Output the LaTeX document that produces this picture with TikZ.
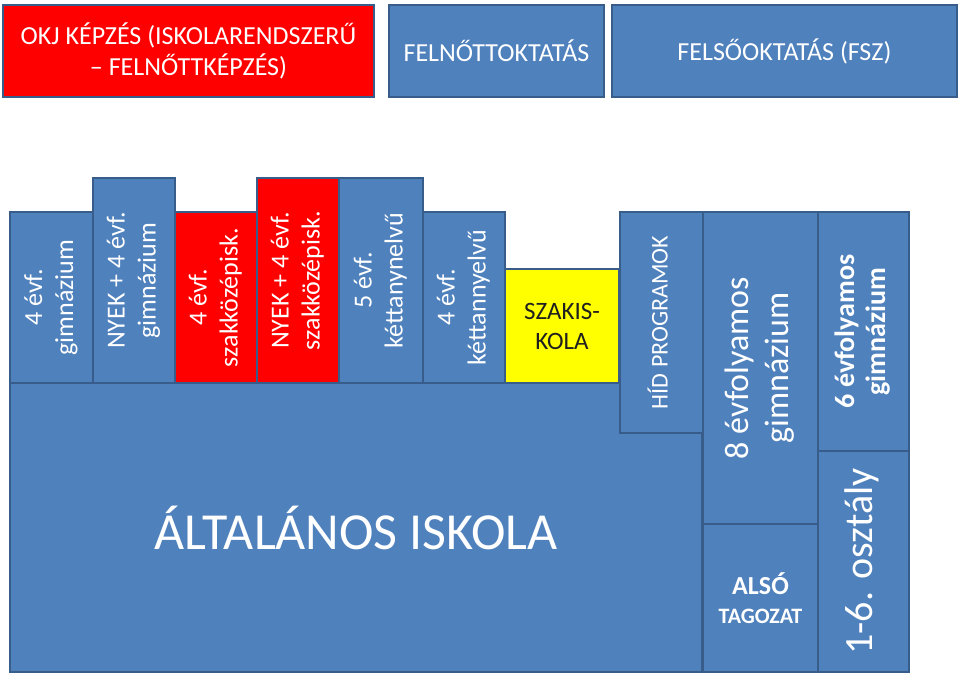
\documentclass[tikz,border=0pt]{standalone}
\usepackage{fontspec}
\setmainfont{Carlito}
\usepackage{graphicx}
\definecolor{boxblue}{HTML}{4F81BD}
\definecolor{edgeblue}{HTML}{385D8A}
\definecolor{boxred}{HTML}{FF0000}
\definecolor{boxyellow}{HTML}{FFFF00}
\definecolor{darktext}{HTML}{1F1F1F}
\newcommand\vtext[1]{\rotatebox{90}{\begin{tabular}{@{}c@{}}#1\end{tabular}}}
\newcommand\fsz[2]{\fontsize{#1}{#2}\selectfont}
\begin{document}
\begin{tikzpicture}[x=1pt,y=-1pt,
  box/.style={draw=edgeblue, line width=1.8pt, inner sep=0pt, outer sep=0pt, text=white, align=center},
  bluebox/.style={box, fill=boxblue},
  redbox/.style={box, fill=boxred},
  yellowbox/.style={box, fill=boxyellow, text=darktext},
  colfont/.style={font=\fsz{26}{31}},
  headfont/.style={font=\fsz{26}{31}},
]
\path[use as bounding box] (0,0) rectangle (960,676);

% top row
\node[redbox, headfont, minimum width=371pt, minimum height=92pt] (okj) at (188.5,51)
  {OKJ KÉPZÉS (ISKOLARENDSZERŰ\\– FELNŐTTKÉPZÉS)};
\node[bluebox, headfont, minimum width=215pt, minimum height=92pt] (felnott) at (496.5,51)
  {FELNŐTTOKTATÁS};
\node[bluebox, headfont, minimum width=345pt, minimum height=92pt] (felso) at (784.5,51)
  {FELSŐOKTATÁS (FSZ)};

% general school
\node[bluebox, font=\fsz{52}{60}, minimum width=692pt, minimum height=289pt] (alt) at (356,527.5)
  {ÁLTALÁNOS ISKOLA};

% columns
\node[bluebox, colfont, minimum width=83pt, minimum height=171pt] (c1) at (51.5,297.5)
  {\vtext{4 évf.\\ gimnázium}};
\node[bluebox, colfont, minimum width=82pt, minimum height=205pt] (c2) at (134,280.5)
  {\vtext{NYEK + 4 évf.\\ gimnázium}};
\node[redbox, colfont, minimum width=82pt, minimum height=171pt] (c3) at (216,297.5)
  {\vtext{4 évf.\\ szakközépisk.}};
\node[redbox, colfont, minimum width=82pt, minimum height=205pt] (c4) at (298,280.5)
  {\vtext{NYEK + 4 évf.\\ szakközépisk.}};
\node[bluebox, colfont, minimum width=84pt, minimum height=205pt] (c5) at (381,280.5)
  {\vtext{5 évf.\\ kéttanynelvű}};
\node[bluebox, colfont, minimum width=82pt, minimum height=171pt] (c6) at (464,297.5)
  {\vtext{4 évf.\\ kéttannyelvű}};
\node[yellowbox, font=\fsz{25}{30}, minimum width=114pt, minimum height=114pt] (c7) at (562,326)
  {SZAKIS-\\KOLA};

% right side
\node[bluebox, font=\fsz{24}{30}, minimum width=83pt, minimum height=221pt] (hid) at (661.5,322.5)
  {\vtext{HÍD PROGRAMOK}};
\node[bluebox, font=\fsz{34}{40}, minimum width=115pt, minimum height=312pt] (g8) at (760.5,368)
  {\vtext{8 évfolyamos\\ gimnázium}};
\node[bluebox, font=\bfseries\fsz{22}{29}, minimum width=115pt, minimum height=148pt] (also) at (760.5,598)
  {{\fsz{26}{29}ALSÓ}\\TAGOZAT};
\node[bluebox, font=\bfseries\fsz{28}{31}, minimum width=91pt, minimum height=239pt] (g6) at (863.5,331.5)
  {\vtext{6 évfolyamos\\ gimnázium}};
\node[bluebox, font=\fsz{40}{46}, minimum width=91pt, minimum height=221pt] (oszt) at (863.5,561.5)
  {\vtext{1-6. osztály}};
\end{tikzpicture}
\end{document}
